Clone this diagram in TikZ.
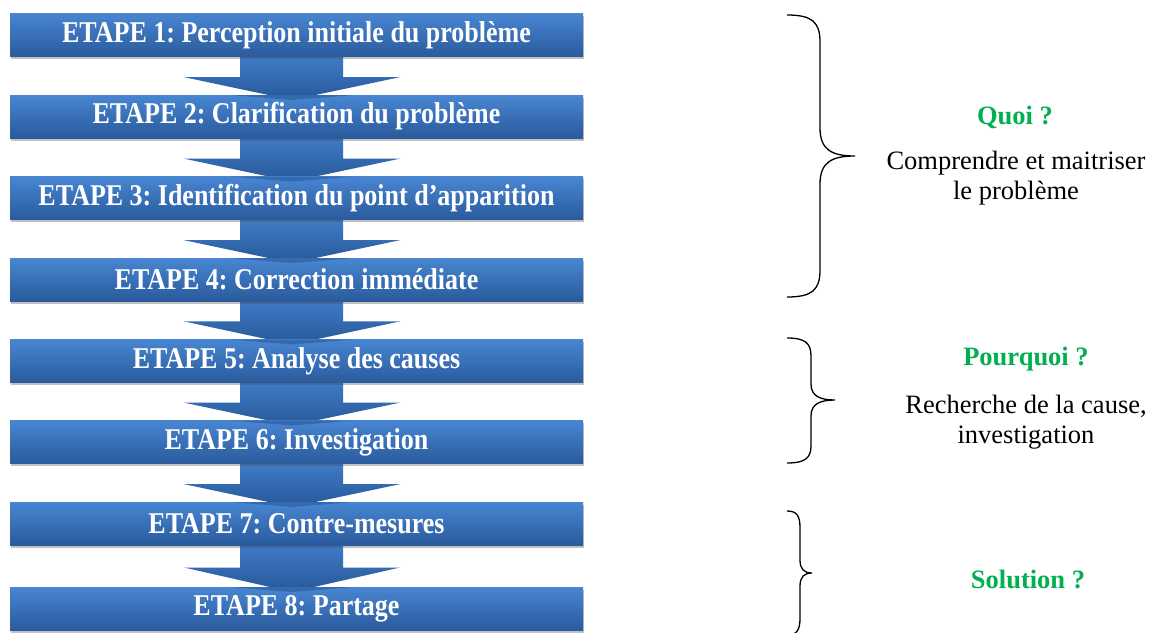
\documentclass[tikz,border=0pt]{standalone}
\usepackage{fontspec}
\setmainfont{Liberation Serif}
\usetikzlibrary{calc,shadows}
\definecolor{bluetop}{RGB}{72,134,210}
\definecolor{bluebot}{RGB}{42,90,156}
\definecolor{arrtop}{RGB}{64,124,200}
\definecolor{arrbot}{RGB}{40,88,152}
\definecolor{qgreen}{RGB}{0,176,80}
\newcommand{\tallt}[1]{\raisebox{-2pt}{\scalebox{1}[1.16]{#1}}}
\begin{document}
\frenchspacing
\begin{tikzpicture}[x=1pt,y=-1pt,
  stepbox/.style={rectangle, minimum width=573pt, minimum height=43pt, inner sep=0pt,
    top color=bluetop, bottom color=bluebot, text=white,
    font=\fontsize{26}{30}\selectfont\bfseries,
    drop shadow={shadow xshift=1pt, shadow yshift=-2.5pt, opacity=0.35, fill=black!70}},
  flowarrow/.style={top color=arrtop, bottom color=arrbot, draw=none},
  bracestyle/.style={draw=black, line width=1.3pt},
  qtitle/.style={text=qgreen, font=\fontsize{26.5}{30}\selectfont\bfseries},
  qtext/.style={align=center, font=\fontsize{26.5}{30}\selectfont}
]
\useasboundingbox (0,0) rectangle (1156,632);
\clip (0,0) rectangle (1156,632);
\fill[white] (0,0) rectangle (1156,632);

% arrows (drawn first, behind boxes)
\foreach \ya/\yb in {57/95, 138.5/176.5, 220/258, 301/339.5, 382.5/420.5, 464/502, 545.5/587}{
  \pgfmathsetmacro{\ym}{\ya+0.53*(\yb-\ya)}
  \pgfmathsetmacro{\yt}{\yb+5}
  \path[flowarrow] (240,\ya-2) -- (343,\ya-2) -- (343,\ym) -- (400,\ym) -- (292,\yt) -- (184,\ym) -- (240,\ym) -- cycle;
}

\node[stepbox] (e1) at (296.5,35) {\tallt{ETAPE 1: Perception initiale du problème}};
\node[stepbox] (e2) at (296.5,116.5) {\tallt{ETAPE 2: Clarification du problème}};
\node[stepbox] (e3) at (296.5,198) {\tallt{ETAPE 3: Identification du point d’apparition}};
\node[stepbox] (e4) at (296.5,279.5) {\tallt{ETAPE 4: Correction immédiate}};
\node[stepbox] (e5) at (296.5,361) {\tallt{ETAPE 5: Analyse des causes}};
\node[stepbox] (e6) at (296.5,442) {\tallt{ETAPE 6: Investigation}};
\node[stepbox] (e7) at (296.5,523.5) {\tallt{ETAPE 7: Contre-mesures}};
\node[stepbox] (e8) at (296.5,608.5) {\tallt{ETAPE 8: Partage}};

% arrow tips visible over next box
\foreach \ya/\yb in {57/95, 138.5/176.5, 220/258, 301/339.5, 382.5/420.5, 464/502, 545.5/587}{
  \pgfmathsetmacro{\yt}{\yb+5}
  \path[fill=arrbot, opacity=0.6] (230,\yb) -- (354,\yb) -- (292,\yt) -- cycle;
}

% braces
\draw[bracestyle] (787,15) .. controls (812,15) and (820,22) .. (820,42)
  -- (820,128) .. controls (820,150) and (832,156) .. (855,156)
  .. controls (832,156) and (820,162) .. (820,184)
  -- (820,270) .. controls (820,290) and (812,297) .. (787,297);
\draw[bracestyle] (787,338) .. controls (805,338) and (811,343) .. (811,356)
  -- (811,384) .. controls (811,396) and (820,400) .. (835,400)
  .. controls (820,400) and (811,404) .. (811,416)
  -- (811,446) .. controls (811,458) and (805,463) .. (787,463);
\draw[bracestyle] (787,511) .. controls (797,511) and (800,516) .. (800,528)
  -- (800,560) .. controls (800,569) and (804,573) .. (812,573)
  .. controls (804,573) and (800,577) .. (800,586)
  -- (800,618) .. controls (800,630) and (797,635) .. (787,635);

% labels
\node[qtitle] (q1) at (1015,117) {Quoi ?};
\node[qtext] (t1) at (1016,178) {Comprendre et maitriser\\le problème};
\node[qtitle] (q2) at (1026,359) {Pourquoi ?};
\node[qtext] (t2) at (1026,422) {Recherche de la cause,\\investigation};
\node[qtitle] (q3) at (1028,579) {Solution ?};
\end{tikzpicture}
\end{document}
